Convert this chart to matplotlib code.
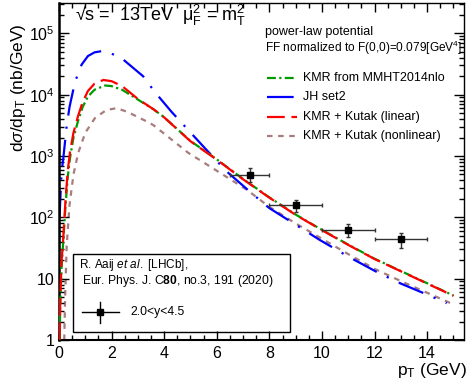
import matplotlib
matplotlib.use("Agg")
import matplotlib.pyplot as plt
from matplotlib.patches import Rectangle
from matplotlib.lines import Line2D
import numpy as np

plt.rcParams['font.family'] = ['Liberation Sans', 'DejaVu Sans']
plt.rcParams['mathtext.fontset'] = 'custom'
plt.rcParams['mathtext.rm'] = 'Liberation Sans'
plt.rcParams['mathtext.it'] = 'Liberation Sans:italic'
plt.rcParams['mathtext.bf'] = 'Liberation Sans:bold'

# ---------------- data ----------------
pt_red = [0.02, 0.05, 0.1, 0.16, 0.25, 0.33, 0.42, 0.55, 0.73, 0.9, 1.1, 1.35, 1.69, 2.0, 2.4,
          3.0, 3.6, 4.0, 5.0, 6.0, 7.0, 8.0, 9.0, 10.0, 11.0, 12.0, 13.0, 14.0, 15.0]
log_red = [0.0, 0.7, 1.3, 1.65, 2.3, 2.75, 3.07, 3.38, 3.66, 3.88, 4.06, 4.18, 4.24, 4.22, 4.14,
           3.93, 3.76, 3.63, 3.24, 2.94, 2.62, 2.32, 2.04, 1.79, 1.55, 1.32, 1.12, 0.92, 0.72]

pt_green = [0.02, 0.05, 0.1, 0.16, 0.25, 0.33, 0.42, 0.55, 0.73, 0.9, 1.1, 1.35, 1.75, 2.0, 2.4,
            3.0, 3.6, 4.0, 5.0, 6.0, 7.0, 8.0, 9.0, 10.0, 11.0, 12.0, 13.0, 14.0, 15.0]
log_green = [0.0, 0.6, 1.2, 1.6, 2.2, 2.65, 2.97, 3.3, 3.58, 3.8, 3.97, 4.08, 4.15, 4.14, 4.08,
             3.92, 3.76, 3.63, 3.245, 2.945, 2.625, 2.325, 2.045, 1.795, 1.555, 1.325, 1.125, 0.925, 0.725]

pt_blue = [0.02, 0.05, 0.1, 0.16, 0.29, 0.4, 0.61, 0.86, 1.1, 1.35, 1.62, 2.0, 2.45, 3.2, 3.65,
           4.28, 4.9, 5.5, 6.37, 7.39, 8.0, 9.0, 9.92, 11.0, 12.08, 13.0, 14.0, 14.74]
log_blue = [2.0, 2.3, 2.75, 2.95, 3.48, 3.8, 4.21, 4.49, 4.63, 4.69, 4.71, 4.67, 4.57, 4.30, 4.04,
            3.72, 3.43, 3.15, 2.75, 2.37, 2.15, 1.88, 1.63, 1.36, 1.11, 0.92, 0.74, 0.60]

pt_brown = [0.2, 0.23, 0.29, 0.4, 0.55, 0.73, 1.0, 1.37, 1.8, 2.19, 2.6, 3.4, 3.6, 4.92, 5.74,
            7.14, 8.0, 9.0, 10.0, 11.0, 12.0, 13.0, 14.0, 15.0]
log_brown = [0.0, 0.65, 1.52, 2.2, 2.7, 3.05, 3.38, 3.62, 3.75, 3.78, 3.72, 3.55, 3.50, 3.05, 2.83,
             2.45, 2.17, 1.9, 1.65, 1.40, 1.16, 0.96, 0.77, 0.58]

data_pt = [7.25, 9.0, 11.0, 13.0]
data_pt_err = [0.75, 1.0, 1.0, 1.0]
data_y = [490, 157, 62, 44]
data_y_lo = [110, 35, 14, 12]
data_y_hi = [140, 33, 15, 11]

series_labels = ["KMR from MMHT2014nlo", "JH set2", "KMR + Kutak (linear)", "KMR + Kutak (nonlinear)"]
yticks = [1, 10, 100, 1000, 1e4, 1e5]
yticklabels = ["1", "10", r"$10^{2}$", r"$10^{3}$", r"$10^{4}$", r"$10^{5}$"]

# ---------------- figure ----------------
W, H = 469, 386
fig = plt.figure(figsize=(W / 100, H / 100), dpi=100)
ax = fig.add_axes([59 / W, 1 - 340 / H, (464 - 59) / W, (340 - 3.3) / H])

c_green = '#009a00'
c_blue = '#0000ff'
c_red = '#ff0000'
c_brown = '#a87c7c'

ls_green = (0, (4, 1.5, 1, 1.5))
ls_blue = (0, (12, 5, 1, 5))
ls_red = (0, (8, 3))
ls_brown = (0, (2.5, 2.5))

ax.plot(pt_green, 10 ** np.array(log_green), color=c_green, lw=1.6, ls=ls_green, zorder=3)
ax.plot(pt_blue, 10 ** np.array(log_blue), color=c_blue, lw=1.6, ls=ls_blue, zorder=2)
ax.plot(pt_red, 10 ** np.array(log_red), color=c_red, lw=1.6, ls=ls_red, zorder=4)
ax.plot(pt_brown, 10 ** np.array(log_brown), color=c_brown, lw=1.6, ls=ls_brown, zorder=1)

ax.errorbar(data_pt, data_y, xerr=data_pt_err, yerr=[data_y_lo, data_y_hi], fmt='s', color='black',
            ms=5, elinewidth=1, ecolor='#333333', capsize=1.5, zorder=6)

ax.set_yscale('log')
ax.set_xlim(0, 15.4)
ax.set_ylim(1, 10 ** 5.49)
ax.set_yticks(yticks)
ax.set_yticklabels(yticklabels)
ax.set_xticks(np.arange(0, 15, 2))
ax.set_xticks(np.arange(0, 15.4, 0.5), minor=True)
ax.yaxis.set_minor_locator(matplotlib.ticker.LogLocator(base=10, subs=np.arange(2, 10), numticks=20))
ax.yaxis.set_minor_formatter(matplotlib.ticker.NullFormatter())
ax.tick_params(axis='both', which='both', direction='in', top=True, right=True, labelsize=11.5, width=1)
ax.tick_params(axis='y', which='major', length=7.5, pad=3)
ax.tick_params(axis='y', which='minor', length=3.8)
ax.tick_params(axis='x', which='major', length=6.5, pad=4)
ax.tick_params(axis='x', which='minor', length=3.5)
for s in ax.spines.values():
    s.set_linewidth(1.0)
ax.spines['left'].set_linewidth(1.8)
ax.spines['bottom'].set_linewidth(1.5)

fig.text(18 / W, 1 - 88 / H, r"d$\sigma$/dp$_{\rm T}$ (nb/GeV)", rotation=90, ha='center', va='center', fontsize=12.5)
fig.text(467 / W, 1 - 370 / H, r"p$_{\rm T}$ (GeV)", ha='right', va='center', fontsize=12.5)

fig.text(75 / W, 1 - 15 / H, "\u221as =  13TeV  \u03bc$_{\\rm F}^{2}$ = m$_{\\rm T}^{2}$",
         ha='left', va='center', fontsize=13)

fig.text(265 / W, 1 - 32 / H, "power-law potential", ha='left', va='center', fontsize=9)
fig.text(265 / W, 1 - 48 / H, r"FF normalized to F(0,0)=0.079[GeV$^{4}$]", ha='left', va='center', fontsize=8.6)

# legend drawn manually
leg_y = [78, 97, 117, 136]
styles = [(c_green, ls_green), (c_blue, ls_blue), (c_red, ls_red), (c_brown, ls_brown)]
for yy, lab, (col, lsty) in zip(leg_y, series_labels, styles):
    fig.add_artist(Line2D([267 / W, 297 / W], [1 - yy / H, 1 - yy / H], color=col, lw=1.6, ls=lsty))
    fig.text(303 / W, 1 - yy / H, lab, ha='left', va='center', fontsize=9)

# inset data box
fig.add_artist(Rectangle((73 / W, 1 - 332 / H), (290 - 73) / W, (332 - 254) / H, fill=False, ec='black', lw=1.0))
fig.text(79 / W, 1 - 265 / H, r"R. Aaij $\mathit{et\ al.}$ [LHCb],", ha='left', va='center', fontsize=8.5)
fig.text(82 / W, 1 - 281 / H, r"Eur. Phys. J. C$\mathbf{80}$, no.3, 191 (2020)", ha='left', va='center', fontsize=8.7)
fig.add_artist(Line2D([82 / W, 119 / W], [1 - 312 / H, 1 - 312 / H], color='black', lw=1))
fig.add_artist(Line2D([100 / W, 100 / W], [1 - 302 / H, 1 - 323 / H], color='black', lw=1))
fig.add_artist(Line2D([100 / W], [1 - 312 / H], color='black', marker='s', ms=5))
fig.text(130 / W, 1 - 312 / H, "2.0<y<4.5", ha='left', va='center', fontsize=8.7)

fig.savefig("out.png", dpi=100)
